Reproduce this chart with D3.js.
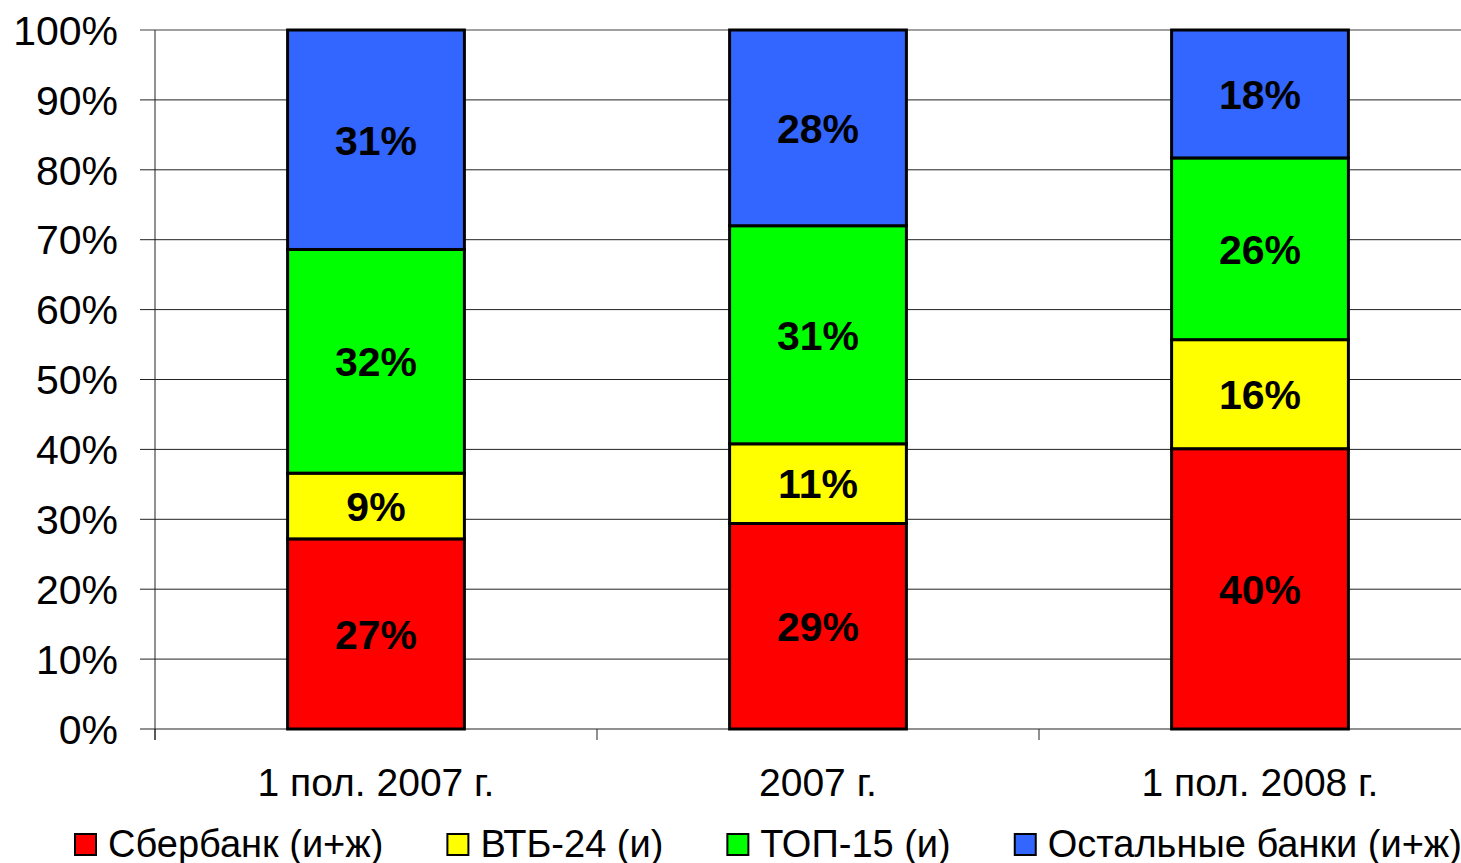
<!DOCTYPE html>
<html>
<head>
<meta charset="utf-8">
<script src="https://cdn.jsdelivr.net/npm/d3@7"></script>
<style>
  body { margin: 0; background: #fff; }
  text { font-family: "Liberation Sans", Arial, sans-serif; }
</style>
</head>
<body>
<script>
// data
var categories = ['1 пол. 2007 г.', '2007 г.', '1 пол. 2008 г.'];
var seriesNames = ['Сбербанк (и+ж)', 'ВТБ-24 (и)', 'ТОП-15 (и)', 'Остальные банки (и+ж)'];
var seriesColors = ['#ff0000', '#ffff00', '#00ff00', '#3366ff'];
var sber = [27.2, 29.4, 40.1];
var vtb = [9.4, 11.4, 15.6];
var top15 = [32.0, 31.2, 26.0];
var others = [31.4, 28.0, 18.3];
var yTicks = [0, 10, 20, 30, 40, 50, 60, 70, 80, 90, 100];

var width = 1461, height = 863;
var plotLeft = 155, plotTop = 30, plotBottom = 729;

var svg = d3.select('body').append('svg')
  .attr('width', width)
  .attr('height', height);

var x = d3.scaleBand()
  .domain(categories)
  .range([plotLeft, plotLeft + 3 * 442])
  .paddingInner(0.6)
  .paddingOuter(0.3);

var y = d3.scaleLinear()
  .domain([0, 100])
  .range([plotBottom, plotTop]);

// gridlines
svg.append('g').selectAll('line')
  .data(yTicks)
  .enter().append('line')
  .attr('x1', plotLeft - 15)
  .attr('x2', width)
  .attr('y1', function(d) { return y(d); })
  .attr('y2', function(d) { return y(d); })
  .attr('stroke', function(d) { return d == 100 ? '#808080' : '#222'; })
  .attr('stroke-width', function(d) { return d == 100 ? 1.5 : 1; });

// y axis line
svg.append('line')
  .attr('x1', plotLeft).attr('x2', plotLeft)
  .attr('y1', plotTop).attr('y2', plotBottom + 11)
  .attr('stroke', '#222');

// category tick marks
var boundaries = categories.map(function(c) { return x(c) - x.step() * x.paddingOuter(); });
svg.append('g').selectAll('line')
  .data(boundaries)
  .enter().append('line')
  .attr('x1', function(d) { return d; })
  .attr('x2', function(d) { return d; })
  .attr('y1', plotBottom)
  .attr('y2', plotBottom + 11)
  .attr('stroke', '#222');

// y tick labels
svg.append('g').selectAll('text')
  .data(yTicks)
  .enter().append('text')
  .attr('x', 118)
  .attr('y', function(d) { return y(d); })
  .attr('dy', '0.36em')
  .attr('text-anchor', 'end')
  .style('font-size', '41px')
  .text(function(d) { return d + '%'; });

// x labels
svg.append('g').selectAll('text')
  .data(categories)
  .enter().append('text')
  .attr('x', function(d) { return x(d) + x.bandwidth() / 2; })
  .attr('y', 796)
  .attr('text-anchor', 'middle')
  .style('font-size', '39px')
  .text(function(d) { return d; });

// stacked bars
var rows = categories.map(function(c, i) {
  return { cat: c, s0: sber[i], s1: vtb[i], s2: top15[i], s3: others[i] };
});
var stack = d3.stack().keys(['s0', 's1', 's2', 's3']);
var layers = stack(rows);

var groups = svg.append('g').selectAll('g')
  .data(layers)
  .enter().append('g')
  .attr('fill', function(d, i) { return seriesColors[i]; });

groups.selectAll('rect')
  .data(function(d) { return d; })
  .enter().append('rect')
  .attr('x', function(d) { return x(d.data.cat); })
  .attr('y', function(d) { return y(d[1]); })
  .attr('width', x.bandwidth())
  .attr('height', function(d) { return y(d[0]) - y(d[1]); })
  .attr('stroke', '#000')
  .attr('stroke-width', 3);

groups.selectAll('text')
  .data(function(d) { return d; })
  .enter().append('text')
  .attr('x', function(d) { return x(d.data.cat) + x.bandwidth() / 2; })
  .attr('y', function(d) { return (y(d[0]) + y(d[1])) / 2; })
  .attr('dy', '0.36em')
  .attr('text-anchor', 'middle')
  .attr('fill', '#000')
  .style('font-size', '41px')
  .style('font-weight', 'bold')
  .text(function(d) { return Math.round(d[1] - d[0]) + '%'; });

// legend
var legend = svg.append('g');
var lx = 75;
seriesNames.forEach(function(name, i) {
  legend.append('rect')
    .attr('x', lx).attr('y', 834)
    .attr('width', 21).attr('height', 21)
    .attr('fill', seriesColors[i])
    .attr('stroke', '#000')
    .attr('stroke-width', 2);
  var t = legend.append('text')
    .attr('x', lx + 33)
    .attr('y', 857)
    .style('font-size', '38px')
    .text(name);
  lx = lx + 33 + t.node().getComputedTextLength() + 64;
});
</script>
</body>
</html>
